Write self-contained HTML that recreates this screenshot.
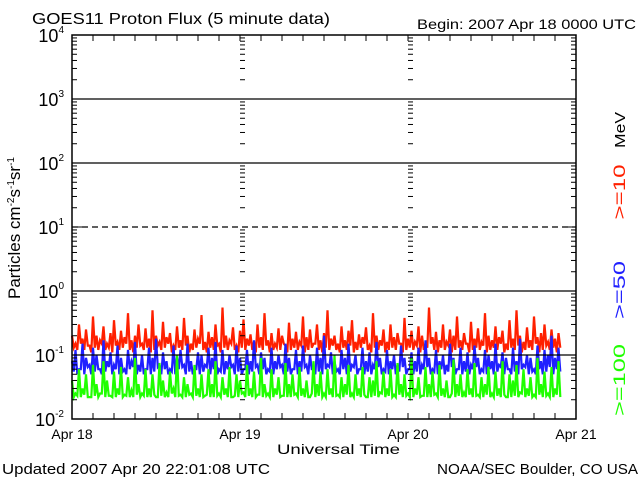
<!DOCTYPE html>
<html><head><meta charset="utf-8"><style>
body{margin:0;background:#fff;width:640px;height:480px;overflow:hidden}
svg{display:block;font-family:"Liberation Sans",sans-serif}
</style></head><body>
<svg id="c" width="640" height="480">
<text x="32" y="24" font-size="16" textLength="298" lengthAdjust="spacingAndGlyphs">GOES11 Proton Flux (5 minute data)</text>
<text x="417" y="29" font-size="14" textLength="219" lengthAdjust="spacingAndGlyphs">Begin: 2007 Apr 18 0000 UTC</text>
<text x="277" y="454" font-size="14" textLength="123" lengthAdjust="spacingAndGlyphs">Universal Time</text>
<text x="2" y="474" font-size="15" textLength="268" lengthAdjust="spacingAndGlyphs">Updated 2007 Apr 20 22:01:08 UTC</text>
<text x="437" y="474" font-size="15" textLength="201" lengthAdjust="spacingAndGlyphs">NOAA/SEC Boulder, CO USA</text>
<text transform="translate(20,228) rotate(-90)" text-anchor="middle" font-size="17">Particles cm<tspan dy="-6" font-size="10">-2</tspan><tspan dy="6">s</tspan><tspan dy="-6" font-size="10">-1</tspan><tspan dy="6">sr</tspan><tspan dy="-6" font-size="10">-1</tspan></text>
<text transform="translate(625,130) rotate(-90)" text-anchor="middle" font-size="15" textLength="36" lengthAdjust="spacingAndGlyphs">MeV</text>
<text transform="translate(625,192) rotate(-90)" text-anchor="middle" font-size="17" textLength="55" lengthAdjust="spacingAndGlyphs" fill="#ff2000">&gt;=10</text>
<text transform="translate(625,290) rotate(-90)" text-anchor="middle" font-size="17" textLength="58" lengthAdjust="spacingAndGlyphs" fill="#2020ff">&gt;=50</text>
<text transform="translate(625,380) rotate(-90)" text-anchor="middle" font-size="17" textLength="72" lengthAdjust="spacingAndGlyphs" fill="#20ff00">&gt;=100</text>
<g id="g"></g>
</svg>
<script>
const dayLabels=["Apr 18","Apr 19","Apr 20","Apr 21"];
const yExps=[-2,-1,0,1,2,3,4];
const sampleHours=0.5;
const red=[.2,.15,.3,.18,.25,.14,.4,.2,.17,.28,.15,.22,.35,.16,.24,.19,.45,.17,.2,.3,
.15,.26,.18,.5,.2,.16,.33,.19,.22,.14,.28,.17,.38,.2,.15,.25,.18,.42,.16,.23,
.19,.3,.15,.55,.2,.17,.27,.14,.24,.36,.18,.21,.16,.3,.19,.45,.17,.22,.15,.26,
.2,.14,.32,.18,.23,.16,.4,.19,.25,.15,.3,.17,.22,.5,.18,.2,.15,.28,.17,.24,
.35,.16,.21,.19,.27,.14,.45,.2,.17,.25,.16,.3,.19,.22,.15,.38,.18,.24,.16,.28,
.2,.15,.55,.19,.23,.17,.3,.16,.25,.2,.4,.17,.22,.15,.33,.18,.26,.16,.45,.2,
.17,.28,.19,.24,.15,.35,.18,.5,.2,.16,.27,.17,.4,.19,.22,.3,.16,.25,.18,.22];
const redLow=[.13,.12,.15,.12,.14,.11,.13,.12,.15,.12,.13,.11,.14,.12,.13,.15,.12,.11,.13,.14,
.12,.13,.11,.12,.14,.12,.13,.15,.11,.12,.13,.12,.14,.11,.12,.13,.15,.12,.11,.13,
.12,.14,.11,.13,.12,.15,.12,.11,.13,.12,.14,.12,.11,.13,.12,.14,.11,.12,.13,.12,
.15,.11,.12,.13,.12,.14,.11,.12,.13,.15,.12,.11,.13,.12,.14,.12,.11,.13,.12,.14,
.11,.12,.13,.15,.12,.11,.13,.12,.14,.11,.12,.13,.12,.15,.11,.12,.13,.12,.14,.11,
.12,.13,.15,.12,.11,.13,.12,.14,.11,.12,.13,.12,.15,.11,.12,.13,.12,.14,.11,.12,
.13,.12,.15,.11,.12,.13,.12,.14,.11,.12,.13,.12,.15,.11,.12,.14,.12,.13,.11,.13];
const blue=[.08,.12,.06,.15,.09,.07,.13,.1,.06,.17,.08,.11,.07,.14,.09,.06,.12,.08,.16,.07,
.1,.06,.13,.09,.18,.07,.11,.08,.06,.14,.09,.12,.07,.15,.08,.06,.11,.1,.07,.13,
.09,.16,.06,.12,.08,.1,.07,.14,.09,.06,.12,.08,.17,.07,.11,.09,.06,.13,.08,.1,
.07,.15,.09,.06,.12,.08,.14,.07,.1,.06,.13,.09,.2,.07,.11,.08,.06,.12,.09,.15,
.07,.1,.06,.13,.08,.11,.07,.16,.09,.06,.12,.08,.1,.07,.14,.09,.06,.11,.08,.13,
.07,.17,.09,.06,.12,.08,.1,.07,.15,.09,.06,.13,.08,.11,.07,.14,.09,.06,.12,.1,
.08,.15,.07,.11,.09,.06,.13,.08,.18,.07,.1,.09,.06,.14,.08,.12,.1,.2,.09,.13];
const blueLow=[.055,.05,.06,.05,.065,.05,.055,.06,.05,.055,.065,.05,.06,.05,.055,.05,.06,.065,.05,.055,
.05,.06,.05,.055,.065,.05,.06,.05,.055,.05,.06,.065,.05,.055,.05,.06,.05,.055,.065,.05,
.06,.05,.055,.05,.06,.065,.05,.055,.05,.06,.05,.055,.065,.05,.06,.05,.055,.05,.06,.065,
.05,.055,.05,.06,.05,.055,.065,.05,.06,.05,.055,.05,.06,.065,.05,.055,.05,.06,.05,.055,
.065,.05,.06,.05,.055,.05,.06,.065,.05,.055,.05,.06,.05,.055,.065,.05,.06,.05,.055,.05,
.06,.065,.05,.055,.05,.06,.05,.055,.065,.05,.06,.05,.055,.05,.06,.065,.05,.055,.05,.06,
.05,.055,.065,.05,.06,.05,.055,.05,.06,.065,.05,.055,.05,.06,.05,.055,.065,.05,.06,.055];
const green=[.04,.025,.06,.03,.05,.022,.07,.035,.025,.08,.04,.023,.055,.03,.065,.024,.045,.028,.09,.035,
.025,.06,.03,.05,.022,.075,.04,.026,.055,.03,.1,.024,.045,.035,.025,.07,.03,.05,.023,.06,
.035,.08,.025,.045,.03,.065,.022,.05,.04,.026,.07,.03,.055,.024,.09,.035,.025,.06,.03,.045,
.023,.075,.035,.05,.025,.065,.03,.04,.022,.08,.035,.055,.025,.06,.03,.1,.024,.045,.035,.07,
.025,.05,.03,.065,.022,.045,.04,.08,.026,.055,.03,.06,.024,.075,.035,.05,.025,.09,.03,.045,
.023,.065,.035,.055,.025,.07,.03,.04,.022,.085,.035,.05,.026,.06,.03,.075,.024,.045,.035,.065,
.025,.055,.03,.08,.022,.05,.04,.07,.026,.06,.03,.045,.024,.09,.035,.055,.025,.065,.03,.08];
const greenLow=[.022,.023,.022,.024,.022,.022,.023,.022,.025,.022,.023,.022,.022,.024,.022,.023,.022,.022,.024,.022,
.023,.022,.022,.024,.022,.023,.022,.022,.025,.022,.023,.022,.022,.024,.022,.023,.022,.022,.024,.022,
.022,.023,.022,.024,.022,.022,.023,.022,.025,.022,.023,.022,.022,.024,.022,.023,.022,.022,.024,.022,
.023,.022,.022,.024,.022,.023,.022,.022,.025,.022,.023,.022,.022,.024,.022,.023,.022,.022,.024,.022,
.022,.023,.022,.024,.022,.022,.023,.022,.025,.022,.023,.022,.022,.024,.022,.023,.022,.022,.024,.022,
.023,.022,.022,.024,.022,.023,.022,.022,.025,.022,.023,.022,.022,.024,.022,.023,.022,.022,.024,.022,
.022,.023,.022,.024,.022,.022,.023,.022,.025,.022,.023,.022,.022,.024,.022,.023,.022,.022,.024,.022];

const L=72,R=576,T=35,B=419;
const xOfH=h=>L+(R-L)*h/72;
const yOf=v=>B-(Math.log10(v)+2)*(B-T)/6;
const g=document.getElementById('g');
const NS='http://www.w3.org/2000/svg';
function mk(tag,a){const e=document.createElementNS(NS,tag);for(const k in a)e.setAttribute(k,a[k]);g.appendChild(e);return e;}

[[red,redLow,'#ff2000','series-ge10'],[blue,blueLow,'#2020ff','series-ge50'],[green,greenLow,'#20ff00','series-ge100']].forEach(s=>{
  const pts=[];
  s[0].forEach((v,i)=>{
    pts.push(xOfH(i*sampleHours).toFixed(1)+','+yOf(v).toFixed(1));
    pts.push(xOfH((i+0.5)*sampleHours).toFixed(1)+','+yOf(s[1][i]).toFixed(1));
  });
  const p=mk('polyline',{points:pts.join(' '),fill:'none',stroke:s[2],'stroke-width':2.2});
  
  
});
yExps.forEach(e=>{
  const y=yOf(Math.pow(10,e));
  if(e>-2&&e<4){
    const ln=mk('line',{x1:L,x2:R,y1:y,y2:y,stroke:'#000','stroke-width':1.3});
    if(e===1)ln.setAttribute('stroke-dasharray','6,4');
    
    
  }
  const t=mk('text',{x:L-8,y:y+7,'text-anchor':'end','font-size':18});
  t.innerHTML='10<tspan dy="-9" font-size="10">'+e+'</tspan>';
  
  
  if(e<4)for(let m=2;m<10;m++){
    const ym=yOf(m*Math.pow(10,e));
    [[L,5],[xOfH(24),5],[xOfH(48),5],[R,-5]].forEach(q=>mk('line',{x1:q[0],x2:q[0]+q[1],y1:ym,y2:ym,stroke:'#000'}));
  }
  mk('line',{x1:L,x2:L+10,y1:y,y2:y,stroke:'#000'});
  mk('line',{x1:R,x2:R-10,y1:y,y2:y,stroke:'#000'});
});
for(let h=3;h<72;h+=3){const x=xOfH(h);
  mk('line',{x1:x,x2:x,y1:B,y2:B-6,stroke:'#000'});mk('line',{x1:x,x2:x,y1:T,y2:T+6,stroke:'#000'});}
dayLabels.forEach((d,i)=>{
  const t=mk('text',{x:xOfH(i*24),y:439,'text-anchor':'middle','font-size':14});
  t.textContent=d;
  
  
});
const fr=mk('rect',{x:L,y:T,width:R-L,height:B-T,fill:'none',stroke:'#000','stroke-width':1.5});


</script>
</body></html>
